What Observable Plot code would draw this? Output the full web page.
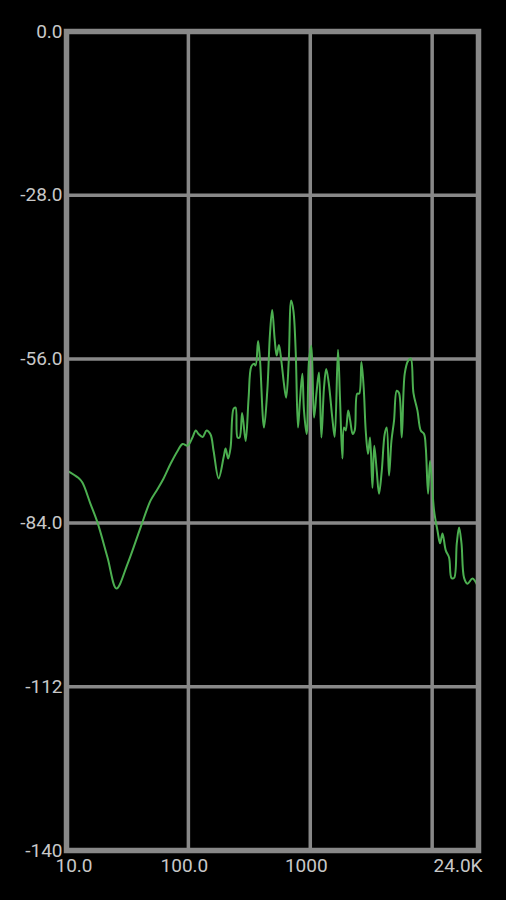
<!DOCTYPE html>
<html>
<head>
<meta charset="utf-8">
<script src="https://cdn.jsdelivr.net/npm/d3@7"></script>
<script src="https://cdn.jsdelivr.net/npm/@observablehq/plot@0.6"></script>
<style>
  html, body { margin: 0; padding: 0; background: #000; }
  #chart { width: 506px; height: 900px; }
</style>
</head>
<body>
<div id="chart"></div>
<script>
// Frequency (Hz) of each sampled point of the spectrum
const freqs = [
  10.2, 12.5, 13.5, 15.7, 18.0, 21.7, 25.7, 31.7, 40.5, 48.9,
  55.9, 62.6, 71.4, 81.5, 89.6, 98.5, 108, 115, 121, 131,
  141, 152, 161, 177, 195, 202, 212, 222, 235, 244,
  253, 263, 276, 295, 312, 328, 345, 356, 373, 386,
  417, 444, 467, 487, 510, 530, 553, 579, 608, 634,
  665, 697, 727, 759, 793, 823, 861, 888, 934, 976,
  1021, 1073, 1129, 1179, 1234, 1296, 1351, 1416, 1519, 1586,
  1688, 1753, 1834, 1891, 1953, 2047, 2126, 2229, 2315, 2427,
  2520, 2627, 2744, 2850, 2977, 3092, 3236, 3348, 3510, 3664,
  3856, 4081, 4239, 4427, 4633, 4867, 5122, 5349, 5629, 5957,
  6341, 6674, 7024, 7575, 8063, 8580, 8861, 9254, 9611, 10366,
  11055, 11613, 12152, 12934, 13767, 14406, 15129, 15922, 16631, 17403,
  18278, 19491, 21425, 23540
];
// Level (dB) at each frequency
const levels = [
  -75.1, -76.3, -77.1, -80.7, -84.0, -89.9, -95.2, -91.0, -84.8, -80.2,
  -78.2, -76.4, -73.9, -71.7, -70.5, -70.8, -69.4, -68.2, -68.8, -69.3,
  -68.2, -68.9, -71.7, -76.4, -72.7, -71.3, -73.0, -71.1, -64.5, -64.3,
  -69.4, -69.4, -65.2, -70.0, -62.6, -57.3, -56.8, -57.1, -52.9, -55.8,
  -67.7, -61.4, -51.7, -47.6, -52.5, -55.4, -53.6, -56.3, -60.2, -62.6,
  -56.6, -46.0, -47.7, -54.6, -67.7, -63.1, -58.5, -64.8, -68.8, -56.3,
  -53.7, -66.0, -61.4, -58.3, -69.4, -60.9, -57.7, -60.0, -66.2, -69.3,
  -54.4, -62.6, -73.0, -67.7, -68.2, -64.8, -66.5, -68.8, -68.2, -61.9,
  -61.9, -56.5, -60.9, -68.2, -72.2, -69.4, -78.0, -70.8, -75.1, -79.0,
  -75.2, -68.8, -67.7, -75.9, -70.0, -66.5, -61.4, -61.8, -69.4, -58.5,
  -56.3, -55.9, -61.8, -64.8, -68.2, -68.8, -71.1, -79.0, -73.4, -81.9,
  -85.3, -87.5, -85.8, -88.7, -89.9, -93.4, -93.4, -87.5, -84.8, -87.5,
  -93.4, -94.4, -93.5, -94.7
];
// Axis ticks
const yTicks = [0, -28, -56, -84, -112, -140];
const yLabels = ["0.0", "-28.0", "-56.0", "-84.0", "-112", "-140"];
const xGrid = [100, 1000, 10000];
const xTicks = [10, 100, 1000, 24000];
const xLabels = ["10.0", "100.0", "1000", "24.0K"];

const spectrum = freqs.map((f, i) => ({f, db: levels[i]}));
const gray = "#888888";
const textColor = "#c8c8c8";
const font = 19;

const chart = Plot.plot({
  width: 506,
  height: 900,
  marginLeft: 66,
  marginRight: 28,
  marginTop: 31,
  marginBottom: 50,
  style: {background: "#000", fontFamily: "Roboto, sans-serif", color: textColor},
  x: {type: "log", domain: [10, 24000], axis: null},
  y: {domain: [-140, 0], axis: null},
  marks: [
    Plot.ruleX(xGrid, {x: d => d, stroke: gray, strokeWidth: 3.5}),
    Plot.ruleY(yTicks.slice(1, -1), {y: d => d, stroke: gray, strokeWidth: 3.5}),
    Plot.line(spectrum, {x: "f", y: "db", stroke: "#4caf50", strokeWidth: 2, curve: "catmull-rom"}),
    Plot.frame({stroke: gray, strokeWidth: 5.5}),
    Plot.text(yTicks, {y: d => d, frameAnchor: "left", textAnchor: "end", dx: -4, dy: 0,
      text: (d, i) => yLabels[i], fill: textColor, fontSize: font}),
    Plot.text(xTicks.slice(0, 1), {x: d => d, frameAnchor: "bottom", textAnchor: "start", dx: -11, dy: 21,
      text: (d, i) => xLabels[0], fill: textColor, fontSize: font}),
    Plot.text(xTicks.slice(1, 3), {x: d => d, frameAnchor: "bottom", textAnchor: "middle", dx: -4, dy: 21,
      text: (d, i) => xLabels[i + 1], fill: textColor, fontSize: font}),
    Plot.text(xTicks.slice(3), {x: d => d, frameAnchor: "bottom", textAnchor: "end", dx: 4, dy: 21,
      text: (d, i) => xLabels[3], fill: textColor, fontSize: font})
  ]
});
document.getElementById("chart").appendChild(chart);
</script>
</body>
</html>
